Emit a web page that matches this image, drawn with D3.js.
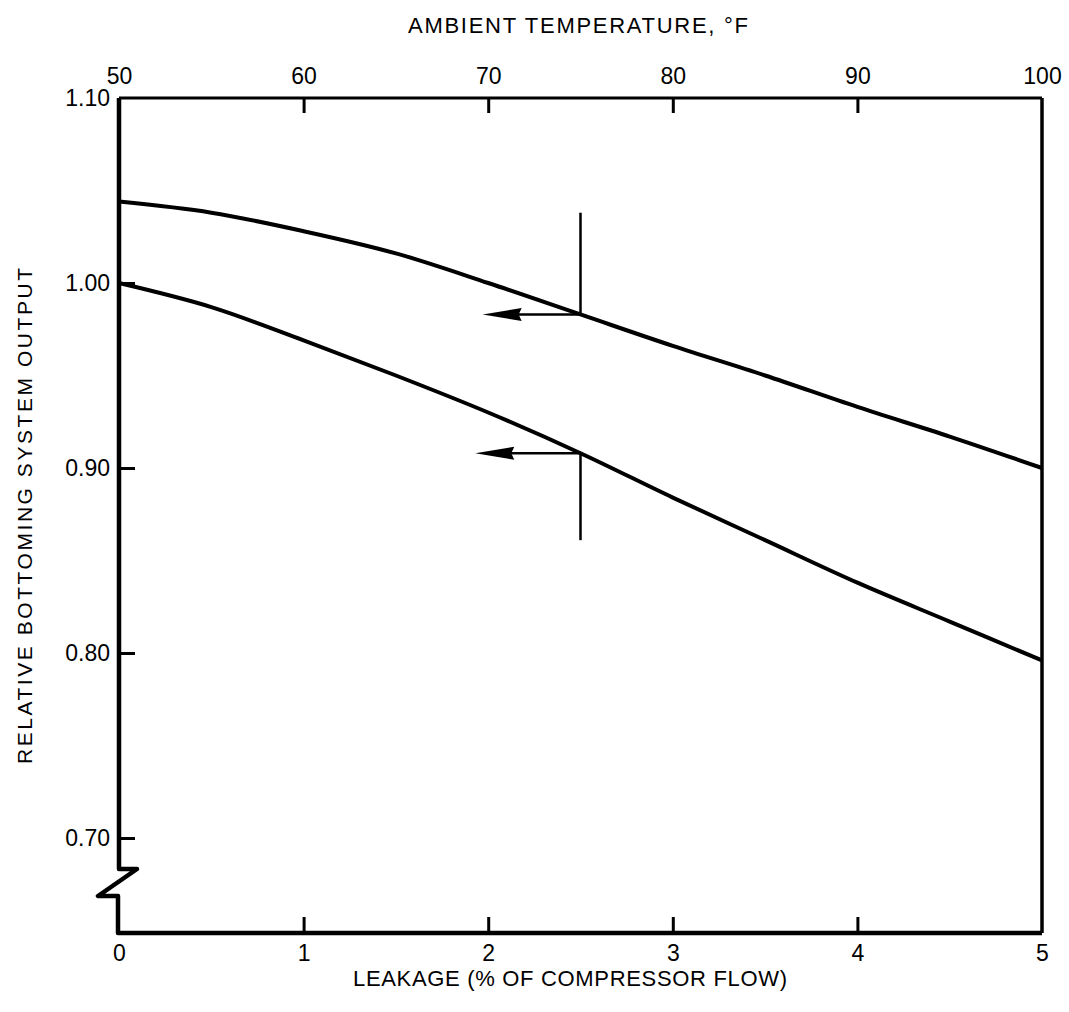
<!DOCTYPE html>
<html>
<head>
<meta charset="utf-8">
<title>Relative bottoming system output</title>
<script src="https://d3js.org/d3.v7.min.js"></script>
<style>
    body { margin: 0; background: #fff; }
    text { font-family: "Liberation Sans", Arial, Helvetica, sans-serif; fill: #000; }
</style>
</head>
<body>
<script type="text/javascript">
    const w = 1069;
    const h = 1012;

    // top axis: ambient temperature (F) -> upper curve
    const temps = [50, 55, 60, 65, 70, 75, 80, 85, 90, 95, 100];
    const tempOutput = [1.044, 1.038, 1.028, 1.016, 1.000, 0.983, 0.966, 0.950, 0.933, 0.917, 0.900];

    // bottom axis: leakage (% of compressor flow) -> lower curve
    const leaks = [0, 0.5, 1, 1.5, 2, 2.5, 3, 3.5, 4, 4.5, 5];
    const leakOutput = [1.000, 0.987, 0.969, 0.950, 0.930, 0.908, 0.884, 0.861, 0.838, 0.817, 0.796];

    const tempTicks = [50, 60, 70, 80, 90, 100];
    const leakTicks = [0, 1, 2, 3, 4, 5];
    const outputTicks = [0.70, 0.80, 0.90, 1.00, 1.10];

    // reading markers: vertical line at the value, arrow pointing to the axis the curve belongs to
    const tempMarker = { temp: 75, lineTop: 1.038, arrowTip: 69.7 };
    const leakMarker = { leak: 2.5, lineBottom: 0.861, arrowTip: 1.93 };

    const pLeft = 119, pRight = 1042, pTop = 98, pBottom = 933;

    const svg = d3.select('body').append('svg').attr('width', w).attr('height', h);

    const xTemp = d3.scaleLinear().domain([50, 100]).range([pLeft, pRight]);
    const xLeak = d3.scaleLinear().domain([0, 5]).range([pLeft, pRight]);
    // axis is broken below 0.70, so only the upper part is to scale
    const y = d3.scaleLinear().domain([0.70, 1.10]).range([838, pTop]);

    // frame with the zig-zag break on the left axis
    svg.append('path')
        .attr('d', `M${pLeft},${pTop}H${pRight}`)
        .attr('stroke', '#000').attr('stroke-width', 3).attr('fill', 'none');
    svg.append('path')
        .attr('d', `M${pRight},${pTop}V${pBottom}`)
        .attr('stroke', '#000').attr('stroke-width', 3.5).attr('fill', 'none');
    svg.append('path')
        .attr('d', `M${pLeft},${pTop}V869H137L98,896H118V${pBottom}H${pRight}`)
        .attr('stroke', '#000').attr('stroke-width', 4.5).attr('fill', 'none')
        .attr('stroke-linejoin', 'round');

    const topAxis = svg.append('g')
        .attr('transform', `translate(0,${pTop})`)
        .call(d3.axisTop(xTemp).tickValues(tempTicks).tickSizeInner(-15).tickSizeOuter(0).tickPadding(14).tickFormat(d3.format('d')));
    topAxis.selectAll('line').filter(d => d === 50 || d === 100).remove();

    const bottomAxis = svg.append('g')
        .attr('transform', `translate(0,${pBottom})`)
        .call(d3.axisBottom(xLeak).tickValues(leakTicks).tickSizeInner(-16).tickSizeOuter(0).tickPadding(12).tickFormat(d3.format('d')));
    bottomAxis.selectAll('line').filter(d => d === 0 || d === 5).remove();

    const leftAxis = svg.append('g')
        .attr('transform', `translate(${pLeft},0)`)
        .call(d3.axisLeft(y).tickValues(outputTicks).tickSizeInner(-16).tickSizeOuter(0).tickPadding(9).tickFormat(d3.format('.2f')));
    leftAxis.selectAll('line').filter(d => d === 1.10).remove();

    [topAxis, bottomAxis, leftAxis].forEach(g => {
        g.select('.domain').remove();
        g.selectAll('line').attr('stroke', '#000').attr('stroke-width', 3);
        g.selectAll('text').attr('font-size', '23px').attr('fill', '#000')
            .style('font-family', '"Liberation Sans", Arial, sans-serif');
    });

    // curves
    const tempLine = d3.line()
        .x((d, i) => xTemp(temps[i]))
        .y(d => y(d))
        .curve(d3.curveCatmullRom.alpha(0.5));
    const leakLine = d3.line()
        .x((d, i) => xLeak(leaks[i]))
        .y(d => y(d))
        .curve(d3.curveCatmullRom.alpha(0.5));

    svg.append('path')
        .attr('d', tempLine(tempOutput))
        .attr('fill', 'none').attr('stroke', '#000').attr('stroke-width', 4);
    svg.append('path')
        .attr('d', leakLine(leakOutput))
        .attr('fill', 'none').attr('stroke', '#000').attr('stroke-width', 4);

    // markers
    const tempAt = tempOutput[temps.indexOf(tempMarker.temp)];
    const leakAt = leakOutput[leaks.indexOf(leakMarker.leak)];

    function arrow(x0, x1, yv) {
        svg.append('line')
            .attr('x1', x0).attr('x2', x1 + 30)
            .attr('y1', y(yv)).attr('y2', y(yv))
            .attr('stroke', '#000').attr('stroke-width', 2.5);
        svg.append('path')
            .attr('d', 'M0,0L39,-6.5L36,0L39,6.5Z')
            .attr('transform', `translate(${x1},${y(yv)})`)
            .attr('fill', '#000');
    }

    svg.append('line')
        .attr('x1', xTemp(tempMarker.temp)).attr('x2', xTemp(tempMarker.temp))
        .attr('y1', y(tempMarker.lineTop)).attr('y2', y(tempAt))
        .attr('stroke', '#000').attr('stroke-width', 2.5);
    arrow(xTemp(tempMarker.temp), xTemp(tempMarker.arrowTip), tempAt);

    svg.append('line')
        .attr('x1', xLeak(leakMarker.leak)).attr('x2', xLeak(leakMarker.leak))
        .attr('y1', y(leakAt)).attr('y2', y(leakMarker.lineBottom))
        .attr('stroke', '#000').attr('stroke-width', 2.5);
    arrow(xLeak(leakMarker.leak), xLeak(leakMarker.arrowTip), leakAt);

    // axis titles
    svg.append('text')
        .attr('x', 578).attr('y', 33)
        .attr('text-anchor', 'middle')
        .attr('font-size', '22px')
        .attr('textLength', 340).attr('lengthAdjust', 'spacing')
        .text('AMBIENT TEMPERATURE, °F');

    svg.append('text')
        .attr('x', 570).attr('y', 986)
        .attr('text-anchor', 'middle')
        .attr('font-size', '22px')
        .attr('textLength', 434).attr('lengthAdjust', 'spacing')
        .text('LEAKAGE (% OF COMPRESSOR FLOW)');

    svg.append('text')
        .attr('transform', 'translate(32,516) rotate(-90)')
        .attr('text-anchor', 'middle')
        .attr('font-size', '21px')
        .attr('textLength', 496).attr('lengthAdjust', 'spacing')
        .text('RELATIVE BOTTOMING SYSTEM OUTPUT');
</script>
</body>
</html>
